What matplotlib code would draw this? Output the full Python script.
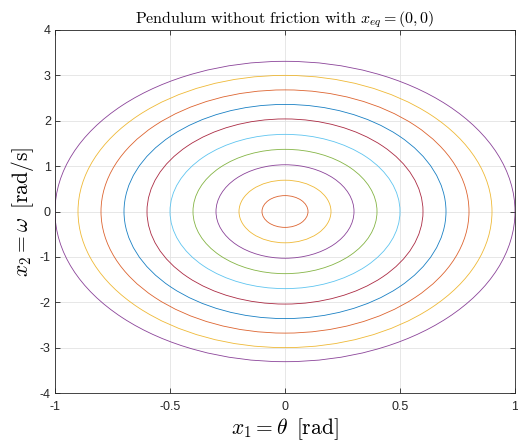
import matplotlib
matplotlib.use("Agg")
import matplotlib.pyplot as plt
from matplotlib.patches import Ellipse

plt.rcParams["mathtext.fontset"] = "cm"
plt.rcParams["font.family"] = ["Liberation Sans", "DejaVu Sans"]

# Orbit amplitudes: initial angle theta0 [rad] and peak angular velocity [rad/s]
theta_max = [0.1, 0.2, 0.3, 0.4, 0.5, 0.6, 0.7, 0.8, 0.9, 1.0]
omega_max = [0.35, 0.69, 1.03, 1.37, 1.70, 2.04, 2.36, 2.68, 3.00, 3.31]

# MATLAB default color order (first color used by the equilibrium point itself)
color_order = ["#0072BD", "#D95319", "#EDB120", "#7E2F8E",
               "#77AC30", "#4DBEEE", "#A2142F"]

x_ticks = [-1, -0.5, 0, 0.5, 1]
x_tick_labels = ["-1", "-0.5", "0", "0.5", "1"]
y_ticks = [-4, -3, -2, -1, 0, 1, 2, 3, 4]
y_tick_labels = ["-4", "-3", "-2", "-1", "0", "1", "2", "3", "4"]

fig = plt.figure(figsize=(5.18, 4.41), dpi=100)
ax = fig.add_axes([55 / 518, 1 - 393 / 441, 460 / 518, 363 / 441])

for i, (a, b) in enumerate(zip(theta_max, omega_max)):
    c = color_order[(i + 1) % len(color_order)]
    ax.add_patch(Ellipse((0, 0), 2 * a, 2 * b, fill=False,
                         edgecolor=c, linewidth=0.6, alpha=0.9))

ax.set_xlim(-1, 1)
ax.set_ylim(-4, 4)
ax.set_xticks(x_ticks)
ax.set_xticklabels(x_tick_labels)
ax.set_yticks(y_ticks)
ax.set_yticklabels(y_tick_labels)

ax.grid(True, color="#e3e3e3", linewidth=0.6)
ax.set_axisbelow(True)
for s in ax.spines.values():
    s.set_color("#262626")
    s.set_linewidth(0.6)
ax.tick_params(direction="in", length=3.5, width=0.6, colors="#262626",
               labelsize=9, top=True, right=True, pad=3)
ax.tick_params(axis="x", pad=6)

ax.set_title(r"$\mathrm{Pendulum\ without\ friction\ with\ }x_{eq} = (0,0)$",
             fontsize=11.5, pad=5, color="#000000")
ax.set_xlabel(r"$x_1 = \theta\ \,[\mathrm{rad}]$", fontsize=15.5, labelpad=2)
ax.set_ylabel(r"$x_2 = \omega\ \,[\mathrm{rad/s}]$", fontsize=15.5, labelpad=3)

fig.savefig("out.png", dpi=100)
